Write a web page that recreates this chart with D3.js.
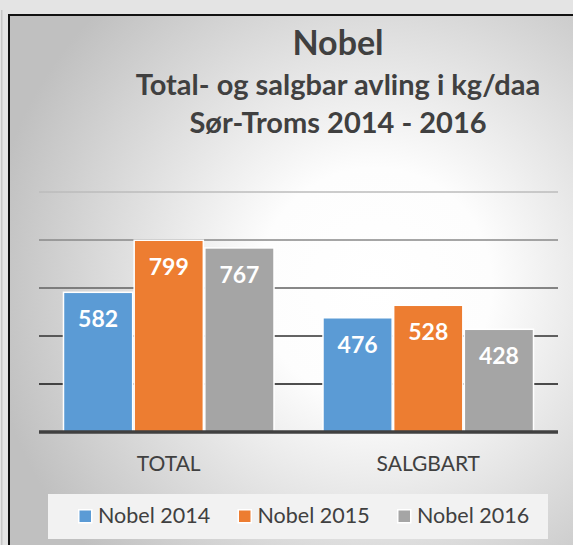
<!DOCTYPE html>
<html>
<head>
<meta charset="utf-8">
<script src="https://cdn.jsdelivr.net/npm/d3@7"></script>
<style>
  body { margin: 0; background: #e4e4e4; }
  text { font-family: Lato, "Open Sans", sans-serif; }
</style>
</head>
<body>
<div id="chart"></div>
<script>
// data
var categories = ["TOTAL", "SALGBART"];
var seriesNames = ["Nobel 2014", "Nobel 2015", "Nobel 2016"];
var nobel2014 = [582, 476];
var nobel2015 = [799, 528];
var nobel2016 = [767, 428];
var yTicks = [200, 400, 600, 800, 1000];
var titleLines = ["Nobel", "Total- og salgbar avling i kg/daa", "Sør-Troms 2014 - 2016"];

var seriesValues = [nobel2014, nobel2015, nobel2016];
var colors = ["#5b9bd5", "#ed7d31", "#a5a5a5"];

var W = 573, H = 545;
var plot = { left: 39, right: 558, top: 192, bottom: 432 };

var svg = d3.select("#chart")
    .append("svg")
    .attr("width", W)
    .attr("height", H);

var defs = svg.append("defs");

// radial background of the chart panel
var bg = defs.append("radialGradient")
    .attr("id", "panelBg")
    .attr("gradientUnits", "userSpaceOnUse")
    .attr("cx", 375).attr("cy", 285).attr("r", 390);
bg.append("stop").attr("offset", "0%").attr("stop-color", "#ffffff");
bg.append("stop").attr("offset", "30%").attr("stop-color", "#fdfdfd");
bg.append("stop").attr("offset", "100%").attr("stop-color", "#c0c0c0");

// grid lines fade from light (top) to dark (bottom)
var gridGrad = defs.append("linearGradient")
    .attr("id", "gridStroke")
    .attr("gradientUnits", "userSpaceOnUse")
    .attr("x1", 0).attr("y1", plot.top).attr("x2", 0).attr("y2", 384);
gridGrad.append("stop").attr("offset", "0%").attr("stop-color", "#bcbcbc");
gridGrad.append("stop").attr("offset", "25%").attr("stop-color", "#888888");
gridGrad.append("stop").attr("offset", "50%").attr("stop-color", "#606060");
gridGrad.append("stop").attr("offset", "75%").attr("stop-color", "#303030");
gridGrad.append("stop").attr("offset", "100%").attr("stop-color", "#141414");

// outer frame
svg.append("rect")
    .attr("x", 1).attr("y", 10).attr("width", 1.5).attr("height", H - 10)
    .attr("fill", "#c6c6c6");

svg.append("rect")
    .attr("x", 9).attr("y", 15).attr("width", W + 20).attr("height", H + 20)
    .attr("fill", "url(#panelBg)")
    .attr("stroke", "#111")
    .attr("stroke-width", 2);

// scales
var x0 = d3.scaleBand()
    .domain(categories)
    .range([plot.left, plot.right])
    .paddingInner(0.183)
    .paddingOuter(0.0915);

var x1 = d3.scaleBand()
    .domain(seriesNames)
    .range([0, x0.bandwidth()])
    .padding(0);

var y = d3.scaleLinear()
    .domain([0, 1000])
    .range([plot.bottom, plot.top]);

// gridlines
svg.append("g")
    .attr("class", "grid")
    .selectAll("line")
    .data(yTicks)
    .enter()
    .append("line")
    .attr("x1", plot.left).attr("x2", plot.right)
    .attr("y1", d => y(d)).attr("y2", d => y(d))
    .attr("stroke", "url(#gridStroke)")
    .attr("stroke-width", 1.6);

// bars
var rows = [];
categories.forEach(function(c, ci) {
    seriesNames.forEach(function(s, si) {
        rows.push({ cat: c, series: s, value: seriesValues[si][ci], color: colors[si] });
    });
});

var cells = svg.selectAll("g.bar")
    .data(rows)
    .enter()
    .append("g")
    .attr("class", "bar")
    .attr("transform", d => "translate(" + (x0(d.cat) + x1(d.series)) + ",0)");

cells.append("rect")
    .attr("x", 0.75)
    .attr("y", d => y(d.value))
    .attr("width", x1.bandwidth() - 1.5)
    .attr("height", d => y(0) - y(d.value))
    .attr("fill", d => d.color)
    .attr("stroke", "#ffffff")
    .attr("stroke-width", 1.5);

cells.append("text")
    .text(d => d.value)
    .attr("x", x1.bandwidth() / 2)
    .attr("y", d => y(d.value) + 35)
    .attr("text-anchor", "middle")
    .style("font-size", "23px")
    .style("font-weight", "bold")
    .style("fill", "#ffffff");

// category axis
svg.append("line")
    .attr("x1", plot.left).attr("x2", plot.right)
    .attr("y1", y(0)).attr("y2", y(0))
    .attr("stroke", "#404040")
    .attr("stroke-width", 3.5);

svg.append("g")
    .selectAll("text")
    .data(categories)
    .enter()
    .append("text")
    .text(d => d)
    .attr("x", d => x0(d) + x0.bandwidth() / 2)
    .attr("y", 471)
    .attr("text-anchor", "middle")
    .style("font-size", "21px")
    .style("fill", "#404040");

// title
var titleSizes = [34, 29, 29];
var titleY = [55, 95, 133];
svg.append("g")
    .selectAll("text")
    .data(titleLines)
    .enter()
    .append("text")
    .text(d => d)
    .attr("x", 338)
    .attr("y", (d, i) => titleY[i])
    .attr("text-anchor", "middle")
    .style("font-size", (d, i) => titleSizes[i] + "px")
    .style("font-weight", "bold")
    .style("fill", "#404040");

// legend
var legend = svg.append("g").attr("class", "legend");
legend.append("rect")
    .attr("x", 48).attr("y", 494).attr("width", 500).attr("height", 45)
    .attr("fill", "#f2f2f2");

var items = legend.selectAll("g.item")
    .data(seriesNames)
    .enter()
    .append("g")
    .attr("class", "item")
    .attr("transform", (d, i) => "translate(" + (78 + i * 159.5) + ",509)");

items.append("rect")
    .attr("x", 0.75).attr("y", 0.75)
    .attr("width", 13).attr("height", 13)
    .attr("fill", (d, i) => colors[i])
    .attr("stroke", "#ffffff")
    .attr("stroke-width", 1.5);

items.append("text")
    .text(d => d)
    .attr("x", 20)
    .attr("y", 14)
    .style("font-size", "21.5px")
    .style("fill", "#404040");
</script>
</body>
</html>
